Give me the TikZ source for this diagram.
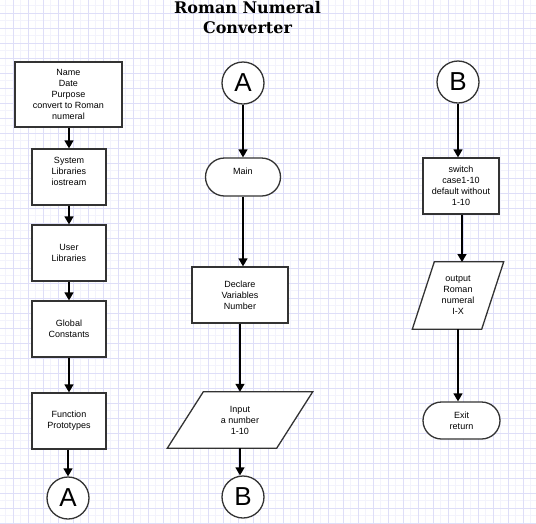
\documentclass[tikz,border=0pt]{standalone}
\usepackage{fontspec}
\setmainfont{Liberation Sans}
\newfontfamily\titlefont{DejaVu Serif}
\usetikzlibrary{arrows.meta}
\pgfdeclarelayer{gridlayer}
\pgfdeclarelayer{background}
\pgfsetlayers{gridlayer,background,main}
\definecolor{gridmaj}{RGB}{222,222,248}
\definecolor{gridmin}{RGB}{243,243,252}
\definecolor{border}{RGB}{51,51,51}
\tikzset{
  box/.style={draw=border, line width=1.3pt, fill=white, rectangle, inner sep=0pt, align=center,
    font=\fontsize{9}{11}\selectfont},
  term/.style={draw=border, line width=1.3pt, fill=white, rectangle, inner sep=0pt, align=center,
    font=\fontsize{9}{11}\selectfont},
  para/.style={rectangle, inner sep=0pt, align=center, font=\fontsize{9}{11}\selectfont},
  conn/.style={draw=border, line width=1.3pt, fill=white, circle, inner sep=0pt, minimum size=42pt,
    font=\fontsize{26}{26}\selectfont},
  flow/.style={line width=1.5pt, -{Triangle[length=8pt,width=9pt]}},
  paraborder/.style={draw=border, line width=1.3pt, fill=white},
  titletext/.style={font=\titlefont\bfseries\fontsize{16}{20}\selectfont, inner sep=0pt, anchor=base}
}
\begin{document}
\begin{tikzpicture}[x=1pt, y=-1pt]
\useasboundingbox (0,0) rectangle (536,523);
\begin{pgfonlayer}{gridlayer}
\fill[white] (0,0) rectangle (536,523);
\foreach \k in {0,...,35} {
  \draw[gridmin, line width=1pt] ({5.5+15*\k},0) -- ({5.5+15*\k},523);
  \draw[gridmin, line width=1pt] (0,{5.5+15*\k}) -- (536,{5.5+15*\k});
}
\foreach \k in {0,...,35} {
  \draw[gridmaj, line width=1pt] ({13+15*\k},0) -- ({13+15*\k},523);
  \draw[gridmaj, line width=1pt] (0,{13+15*\k}) -- (536,{13+15*\k});
}
\end{pgfonlayer}

% title
\node[titletext] (t1) at (247.5,13) {Roman Numeral};
\node[titletext] (t2) at (247.5,33) {Converter};

% left column
\node[box, minimum width=107pt, minimum height=65pt] (hdr) at (68.5,94.5) {Name\\Date\\Purpose\\convert to Roman\\numeral};
\node[box, minimum width=74pt, minimum height=56pt] (sys) at (69,177) {System\\Libraries\\iostream\\ };
\node[box, minimum width=74pt, minimum height=56pt] (usr) at (69,253) {User\\Libraries};
\node[box, minimum width=74pt, minimum height=56pt] (glob) at (69,329) {Global\\Constants};
\node[box, minimum width=74pt, minimum height=56pt] (func) at (69,421) {Function\\Prototypes};
\node[conn] (a1) at (68,498) {A};

\draw[flow] (hdr.south -| sys) -- (sys.north);
\draw[flow] (sys) -- (usr);
\draw[flow] (usr) -- (glob);
\draw[flow] (glob) -- (func);
\draw[flow] (func.south -| a1) -- (a1.north);

% middle column
\node[conn] (a2) at (243,83) {A};
\node[term, minimum width=75pt, minimum height=38pt, rounded corners=19pt] (main) at (243,177) {Main\\ };
\node[box, minimum width=96pt, minimum height=56pt] (decl) at (240,295) {Declare\\Variables\\Number};
\node[para, minimum width=145pt, minimum height=56pt] (inp) at (240,420) {Input\\a number\\1-10};
\begin{pgfonlayer}{background}
\draw[paraborder] (inp.south west) -- ([xshift=36pt]inp.north west) -- (inp.north east) -- ([xshift=-36pt]inp.south east) -- cycle;
\end{pgfonlayer}
\node[conn] (b1) at (243,497) {B};

\draw[flow] (a2.south) -- (a2.south |- main.north);
\draw[flow] (main.south) -- (main.south |- decl.north);
\draw[flow] (decl.south) -- (decl.south |- inp.north);
\draw[flow] (inp.south) -- (inp.south |- b1.north);

% right column
\node[conn] (b2) at (458,82) {B};
\node[box, minimum width=76pt, minimum height=56pt] (sw) at (461,186) {switch\\case1-10\\default without\\1-10};
\node[para, minimum width=91pt, minimum height=67pt] (outp) at (458,295.5) {output\\Roman\\numeral\\I-X};
\begin{pgfonlayer}{background}
\draw[paraborder] (outp.south west) -- ([xshift=22pt]outp.north west) -- (outp.north east) -- ([xshift=-22pt]outp.south east) -- cycle;
\end{pgfonlayer}
\node[term, minimum width=77pt, minimum height=37pt, rounded corners=18.5pt] (exit) at (461.5,420.5) {Exit\\return};

\draw[flow] (b2.south) -- (b2.south |- sw.north);
\draw[flow] (sw.south -| 462,0) -- (462,262);
\draw[flow] (outp.south) -- (outp.south |- exit.north);
\end{tikzpicture}
\end{document}
